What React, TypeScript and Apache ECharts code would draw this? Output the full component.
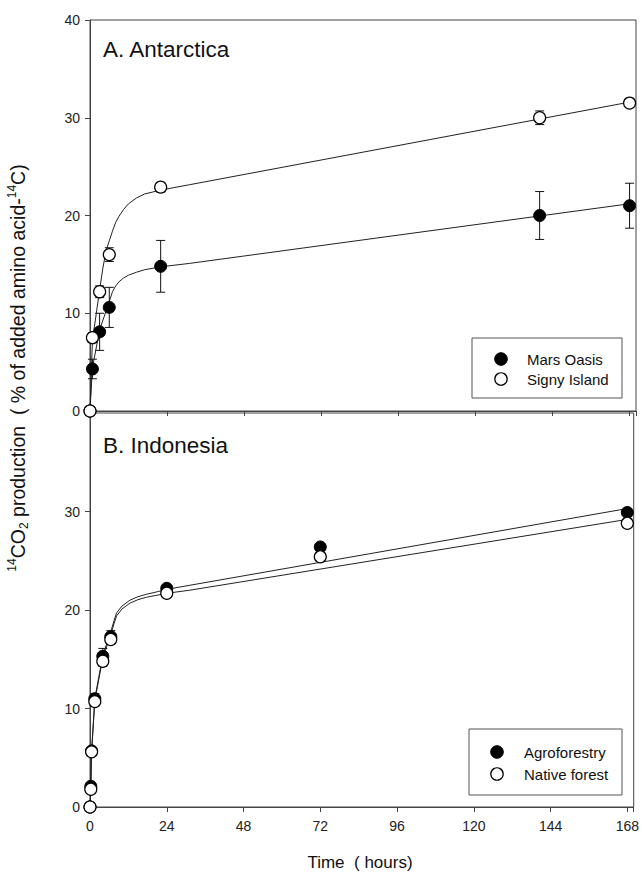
import React, { useEffect, useRef } from "react";
import * as echarts from "echarts";

// ---- Panel A: Antarctica ----
const timesA = [0, 0.75, 3, 6, 22, 140, 168];
const marsOasis = [0, 4.3, 8.1, 10.6, 14.8, 20.0, 21.0];
const marsOasisErr = [0, 1.0, 1.9, 2.05, 2.65, 2.45, 2.3];
const signyIsland = [0, 7.5, 12.2, 16.0, 22.9, 30.0, 31.5];
const signyIslandErr = [0, 0.5, 0.6, 0.7, 0.5, 0.7, 0.4];

const curveTimesMars = [0, 0.75, 3, 6, 7, 8, 9, 10.4, 12, 14.5, 17, 22, 31, 168];
const curveMars = [0, 4.4, 8.3, 11.2, 12.2, 12.8, 13.2, 13.6, 13.9, 14.2, 14.45, 14.75, 15.1, 21.2];
const curveTimesSigny = [0, 0.75, 3, 4, 5, 6, 7, 8, 9, 10.4, 12, 14.5, 17, 22, 31, 168];
const curveSigny = [0, 7.2, 12.4, 14.6, 16.4, 17.4, 18.4, 19.3, 19.9, 20.6, 21.2, 21.8, 22.2, 22.6, 23.15, 31.6];

// ---- Panel B: Indonesia ----
const timesB = [0, 0.25, 0.5, 1.5, 4, 6.5, 24, 72, 168];
const agroforestry = [0, 2.1, 5.7, 11.0, 15.3, 17.3, 22.2, 26.4, 29.9];
const agroforestryErr = [0, 0.3, 0.3, 0.5, 0.8, 0.6, 0.3, 0.3, 0.3];
const nativeForest = [0, 1.8, 5.6, 10.7, 14.8, 17.0, 21.7, 25.4, 28.8];
const nativeForestErr = [0, 0.2, 0.2, 0.3, 0.5, 0.4, 0.3, 0.3, 0.3];

const curveTimesB = [0, 0.25, 0.5, 1.5, 4, 6.5, 7.5, 8.3, 10, 12.5, 15, 17.7, 21, 24, 31, 168];
const curveAgro = [0, 2.0, 5.7, 11.0, 15.4, 17.8, 18.9, 19.7, 20.4, 21.0, 21.35, 21.6, 21.85, 22.1, 22.5, 30.3];
const curveNative = [0, 1.8, 5.5, 10.8, 15.1, 17.5, 18.6, 19.4, 20.1, 20.7, 21.05, 21.3, 21.5, 21.7, 22.0, 29.2];

const xTicks = [0, 24, 48, 72, 96, 120, 144, 168];
const yTicks = [0, 10, 20, 30, 40];

const FONT = "'Liberation Sans', Arial, Helvetica, sans-serif";
const AXIS = "#444";

const zip2 = (xs: number[], ys: number[]) => xs.map((x, i) => [x, ys[i]]);
const zip3 = (xs: number[], ys: number[], es: number[]) => xs.map((x, i) => [x, ys[i], es[i]]);

function errorBars(name: string, data: number[][], idx: number) {
  return {
    name,
    type: "custom",
    xAxisIndex: idx,
    yAxisIndex: idx,
    z: 3,
    clip: false,
    encode: { x: 0, y: 1 },
    renderItem: (params: any, api: any) => {
      const x = api.value(0);
      const y = api.value(1);
      const e = api.value(2);
      if (!e) return null;
      const hi = api.coord([x, y + e]);
      const lo = api.coord([x, y - e]);
      const c = 4.5;
      const st = { stroke: "#111", lineWidth: 1 };
      return {
        type: "group",
        children: [
          { type: "line", shape: { x1: hi[0], y1: hi[1], x2: lo[0], y2: lo[1] }, style: st },
          { type: "line", shape: { x1: hi[0] - c, y1: hi[1], x2: hi[0] + c, y2: hi[1] }, style: st },
          { type: "line", shape: { x1: lo[0] - c, y1: lo[1], x2: lo[0] + c, y2: lo[1] }, style: st },
        ],
      };
    },
    data,
  };
}

function curve(name: string, data: number[][], idx: number) {
  return {
    name,
    type: "line",
    xAxisIndex: idx,
    yAxisIndex: idx,
    data,
    showSymbol: false,
    smooth: false,
    z: 2,
    lineStyle: { color: "#222", width: 1 },
    silent: true,
  };
}

function points(name: string, data: number[][], idx: number, filled: boolean, z: number) {
  return {
    name,
    type: "scatter",
    xAxisIndex: idx,
    yAxisIndex: idx,
    data,
    symbol: "circle",
    symbolSize: 12,
    clip: false,
    z,
    itemStyle: filled
      ? { color: "#000", borderColor: "#000", borderWidth: 1, opacity: 1 }
      : { color: "#fff", borderColor: "#000", borderWidth: 1.2, opacity: 1 },
  };
}

function xAxis(idx: number, showLabels: boolean) {
  return {
    type: "value",
    gridIndex: idx,
    min: 0,
    max: 170,
    interval: 24,
    axisLine: { show: true, lineStyle: { color: AXIS, width: 1 } },
    axisTick: { show: true, inside: false, length: 5, lineStyle: { color: AXIS } },
    splitLine: { show: false },
    axisLabel: {
      show: showLabels,
      fontFamily: FONT,
      fontSize: 14,
      color: "#222",
      margin: 12,
      formatter: (v: number) => (xTicks.includes(v) ? String(v) : ""),
    },
  };
}

function yAxis(idx: number, hideTop: boolean) {
  return {
    type: "value",
    gridIndex: idx,
    min: 0,
    max: 40,
    interval: 10,
    axisLine: { show: true, lineStyle: { color: AXIS, width: 1 } },
    axisTick: { show: true, inside: false, length: 5, lineStyle: { color: AXIS } },
    splitLine: { show: false },
    axisLabel: {
      fontFamily: FONT,
      fontSize: 14,
      color: "#222",
      margin: 10,
      formatter: (v: number) => (hideTop && v === 40 ? "" : yTicks.includes(v) ? String(v) : ""),
    },
  };
}

function legendBox(x: number, y: number, w: number, h: number, cx: number, tx: number, y1: number, y2: number, n1: string, n2: string) {
  return [
    { type: "rect", shape: { x, y, width: w, height: h }, style: { fill: "#fff", stroke: "#555", lineWidth: 1 }, z: 10 },
    { type: "circle", shape: { cx, cy: y1, r: 6.3 }, style: { fill: "#000", stroke: "#000", lineWidth: 1 }, z: 11 },
    { type: "circle", shape: { cx, cy: y2, r: 6.2 }, style: { fill: "#fff", stroke: "#000", lineWidth: 1.2 }, z: 11 },
    { type: "text", x: tx, y: y1, style: { text: n1, fontFamily: FONT, fontSize: 15, fill: "#111", verticalAlign: "middle", align: "left" }, z: 11 },
    { type: "text", x: tx, y: y2, style: { text: n2, fontFamily: FONT, fontSize: 15, fill: "#111", verticalAlign: "middle", align: "left" }, z: 11 },
  ];
}

export default function App() {
  const ref = useRef<HTMLDivElement>(null);
  useEffect(() => {
    if (!ref.current) return;
    const chart = echarts.init(ref.current, undefined, { renderer: "svg" });
    const option: any = {
      animation: false,
      backgroundColor: "#fff",
      textStyle: { fontFamily: FONT },
      grid: [
        { left: 90, right: 6, top: 20, height: 391, show: true, borderColor: AXIS, borderWidth: 1, backgroundColor: "transparent" },
        { left: 90, right: 6, top: 413, height: 394, show: true, borderColor: AXIS, borderWidth: 1, backgroundColor: "transparent" },
      ],
      xAxis: [xAxis(0, false), xAxis(1, true)],
      yAxis: [yAxis(0, false), yAxis(1, true)],
      series: [
        curve("Mars Oasis fit", zip2(curveTimesMars, curveMars), 0),
        curve("Signy Island fit", zip2(curveTimesSigny, curveSigny), 0),
        errorBars("Mars Oasis error", zip3(timesA, marsOasis, marsOasisErr), 0),
        errorBars("Signy Island error", zip3(timesA, signyIsland, signyIslandErr), 0),
        points("Mars Oasis", zip2(timesA, marsOasis), 0, true, 4),
        points("Signy Island", zip2(timesA, signyIsland), 0, false, 5),
        curve("Agroforestry fit", zip2(curveTimesB, curveAgro), 1),
        curve("Native forest fit", zip2(curveTimesB, curveNative), 1),
        errorBars("Agroforestry error", zip3(timesB, agroforestry, agroforestryErr), 1),
        errorBars("Native forest error", zip3(timesB, nativeForest, nativeForestErr), 1),
        points("Agroforestry", zip2(timesB, agroforestry), 1, true, 4),
        points("Native forest", zip2(timesB, nativeForest), 1, false, 5),
      ],
      graphic: [
        { type: "text", x: 103, y: 49, style: { text: "A. Antarctica", fontFamily: FONT, fontSize: 22.5, fill: "#111", verticalAlign: "middle" } },
        { type: "text", x: 103, y: 445, style: { text: "B. Indonesia", fontFamily: FONT, fontSize: 22.5, fill: "#111", verticalAlign: "middle" } },
        ...legendBox(472, 338, 150, 60, 501, 527, 359, 379, "Mars Oasis", "Signy Island"),
        ...legendBox(469, 729, 153, 66, 497, 524, 752, 774, "Agroforestry", "Native forest"),
        {
          type: "text",
          x: 360,
          y: 862,
          style: { text: "Time  ( hours)", fontFamily: FONT, fontSize: 17, fill: "#111", align: "center", verticalAlign: "middle" },
        },
        {
          type: "text",
          x: 18,
          y: 368,
          rotation: Math.PI / 2,
          style: {
            text: "{sup|14}{n|CO}{sub|2}{n| production  ( % of added amino acid-}{sup|14}{n|C)}",
            align: "center",
            verticalAlign: "middle",
            fill: "#111",
            rich: {
              n: { fontFamily: FONT, fontSize: 19.5, lineHeight: 24, verticalAlign: "middle", fill: "#111" },
              sup: { fontFamily: FONT, fontSize: 12, lineHeight: 12, verticalAlign: "top", fill: "#111" },
              sub: { fontFamily: FONT, fontSize: 12, lineHeight: 12, verticalAlign: "bottom", fill: "#111" },
            },
          },
        },
      ],
    };
    chart.setOption(option);
    return () => chart.dispose();
  }, []);
  return (
    <div
      ref={ref}
      style={{ position: "absolute", left: 0, top: 0, width: 642, height: 877, background: "#fff" }}
    />
  );
}
